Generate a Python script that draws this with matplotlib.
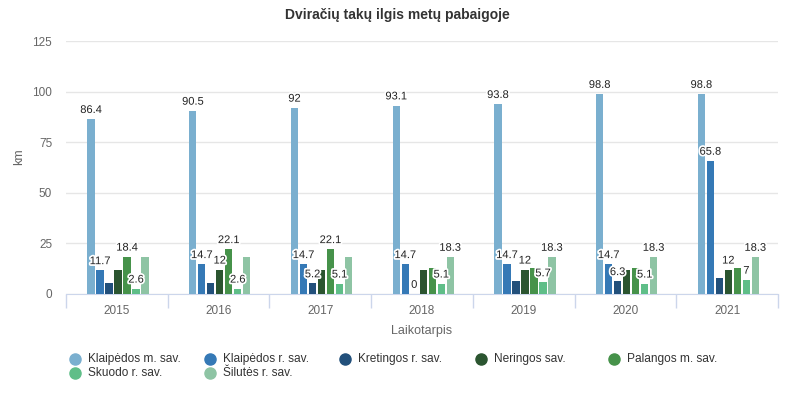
import matplotlib
matplotlib.use("Agg")
import matplotlib.pyplot as plt
import matplotlib.patheffects as pe
from matplotlib.lines import Line2D
import numpy as np

plt.rcParams['font.family'] = ['Liberation Sans', 'DejaVu Sans']

years = ['2015', '2016', '2017', '2018', '2019', '2020', '2021']
series_names = ['Klaipėdos m. sav.', 'Klaipėdos r. sav.', 'Kretingos r. sav.',
                'Neringos sav.', 'Palangos m. sav.', 'Skuodo r. sav.', 'Šilutės r. sav.']

klaipedos_m = [86.4, 90.5, 92, 93.1, 93.8, 98.8, 98.8]
klaipedos_r = [11.7, 14.7, 14.7, 14.7, 14.7, 14.7, 65.8]
kretingos = [5.2, 5.2, 5.2, 0, 6.3, 6.3, 8]
neringos = [12, 12, 12, 12, 12, 12, 12]
palangos = [18.4, 22.1, 22.1, 12.6, 12.6, 12.6, 12.6]
skuodo = [2.6, 2.6, 5.1, 5.1, 5.7, 5.1, 7]
silutes = [18.3, 18.3, 18.3, 18.3, 18.3, 18.3, 18.3]

# which series get a value label in each year (others hidden by overlap)
shown_labels = [[0, 1, 4, 5], [0, 1, 3, 4, 5], [0, 1, 2, 4, 5], [0, 1, 2, 5, 6],
                [0, 1, 3, 5, 6], [0, 1, 2, 5, 6], [0, 1, 3, 5, 6]]

colors = ['#7aafcf', '#3579b6', '#22507b', '#2b5530', '#46924a', '#5fbe88', '#8ec4a4']

data = [klaipedos_m, klaipedos_r, kretingos, neringos, palangos, skuodo, silutes]

fig = plt.figure(figsize=(7.95, 4.04), dpi=100)
ax = fig.add_axes([66 / 795, 1 - 294 / 404, 712 / 795, 253 / 404])

x = np.arange(len(years))
pitch = 0.0885
width = 0.072
for i, vals in enumerate(data):
    pos = x + (i - 3) * pitch + 0.012
    ax.bar(pos, vals, width=width, color=colors[i], zorder=3)
    for j, v in enumerate(vals):
        if i in shown_labels[j]:
            ax.annotate(f'{v:g}', (pos[j], v), xytext=(0, 3), textcoords='offset points',
                        ha='center', va='bottom', fontsize=8, color='#222222', zorder=5,
                        path_effects=[pe.withStroke(linewidth=2.5, foreground='white')])

ax.set_xlim(-0.5, len(years) - 0.5)
ax.set_ylim(0, 125)
ax.set_yticks([0, 25, 50, 75, 100, 125])
ax.grid(axis='y', color='#e6e6e6', linewidth=1, zorder=0)
ax.set_axisbelow(True)
for s in ['top', 'right', 'left']:
    ax.spines[s].set_visible(False)
ax.spines['bottom'].set_color('#ccd6eb')
ax.tick_params(axis='y', length=0, labelsize=8.5, labelcolor='#666666', pad=10)
ax.set_xticks(x)
ax.set_xticklabels(years)
ax.tick_params(axis='x', length=0, labelsize=8.5, labelcolor='#666666', pad=8)
# category separator ticks
ax.set_xticks(np.arange(-0.5, len(years)), minor=True)
ax.tick_params(axis='x', which='minor', length=10, color='#ccd6eb', width=1)

fig.text(19 / 795, 1 - 157 / 404, 'km', rotation=90, ha='center', va='center',
         fontsize=9, color='#666666')
ax.set_xlabel('Laikotarpis', fontsize=9, color='#666666', labelpad=6)

fig.text(0.5, 1 - 15 / 404, 'Dviračių takų ilgis metų pabaigoje', ha='center', va='center',
         fontsize=10, fontweight='bold', color='#333333')

# legend, Highcharts style (rows of 5)
col_x = [75, 210, 345, 481, 614]
row_y = [359, 373]
for i, name in enumerate(series_names):
    cx = col_x[i % 5] / 795
    cy = 1 - row_y[i // 5] / 404
    fig.add_artist(Line2D([cx], [cy], marker='o', markersize=8, color=colors[i],
                          linestyle='none', transform=fig.transFigure))
    fig.text(cx + 13 / 795, cy, name, ha='left', va='center', fontsize=8.6, color='#333333')

fig.savefig('out.png', dpi=100)
